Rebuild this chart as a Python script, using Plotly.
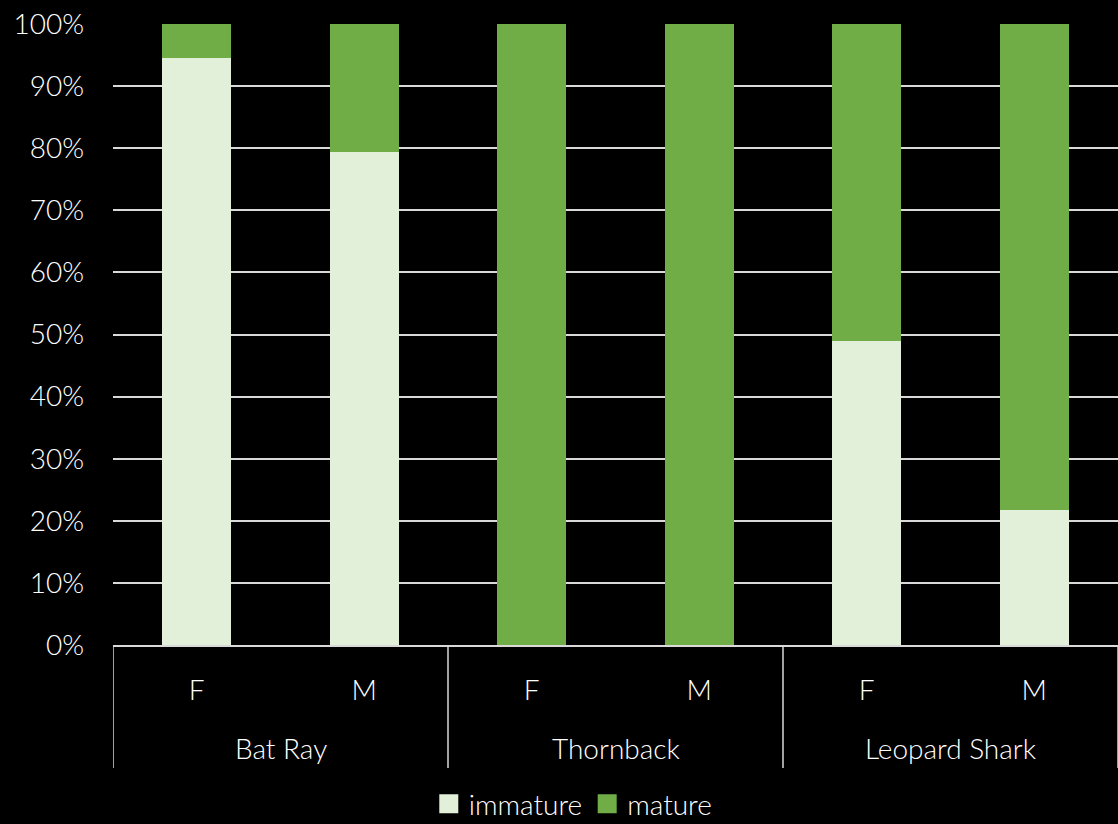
import plotly.graph_objects as go

species = ['Bat Ray', 'Bat Ray', 'Thornback', 'Thornback', 'Leopard Shark', 'Leopard Shark']
sex = ['F', 'M', 'F', 'M', 'F', 'M']
immature = [94.5, 79.4, 0, 0, 49.0, 21.7]
mature = [5.5, 20.6, 100, 100, 51.0, 78.3]
ticks = [0, 10, 20, 30, 40, 50, 60, 70, 80, 90, 100]

colors = {'immature': '#e2efd9', 'mature': '#70ad47'}
line_col = '#d9d9d9'
font = dict(family='Lato', color='white', size=28, weight=300)

# unique category keys, shown as F / M
keys = [f'{s} {x}' for s, x in zip(species, sex)]

fig = go.Figure()
for name, vals in [('immature', immature), ('mature', mature)]:
    fig.add_trace(go.Bar(x=keys, y=vals, name=name, showlegend=False,
                         marker=dict(color=colors[name], line=dict(width=0))))
    # bigger square legend symbols
    fig.add_trace(go.Scatter(x=[None], y=[None], mode='markers', name=name,
                             marker=dict(symbol='square', size=16, color=colors[name],
                                         line=dict(color=colors[name], width=3))))

# group labels and dividers
groups = list(dict.fromkeys(species))
for g in groups:
    idx = [i for i, s in enumerate(species) if s == g]
    fig.add_annotation(x=sum(idx) / len(idx), y=-0.166, xref='x', yref='paper',
                       text=g, showarrow=False, yanchor='middle', font=font)
bounds = [-0.5] + [i + 0.5 for i in range(len(species) - 1) if species[i] != species[i + 1]] + [len(species) - 0.5]
for b in bounds:
    fig.add_shape(type='line', xref='x', yref='paper', x0=b, x1=b, y0=0, y1=-0.198,
                  line=dict(color=line_col, width=1.5))

fig.update_layout(
    barmode='stack',
    bargap=0.59,
    width=1118, height=824,
    margin=dict(l=113, r=0, t=24, b=179, autoexpand=False),
    paper_bgcolor='black', plot_bgcolor='black',
    font=font,
    legend=dict(orientation='h', x=0.458, xanchor='center',
                y=-0.256, yanchor='middle',
                traceorder='normal', font=font, itemwidth=30, itemsizing='trace'),
)
fig.update_yaxes(range=[0, 100], tickvals=ticks,
                 ticktext=[f'{t}%' for t in ticks],
                 showgrid=True, gridcolor=line_col, gridwidth=1.5,
                 zeroline=False, ticks='', ticklabelstandoff=28)
fig.update_xaxes(type='category', range=[-0.5, len(species) - 0.5],
                 tickvals=keys, ticktext=sex, ticklabelstandoff=20,
                 showline=True, linecolor=line_col, linewidth=1.5,
                 ticks='', showgrid=False)

fig.write_html("out.html", config={'displayModeBar': False},
               post_script="document.body.style.margin='0';document.body.style.background='black';")
